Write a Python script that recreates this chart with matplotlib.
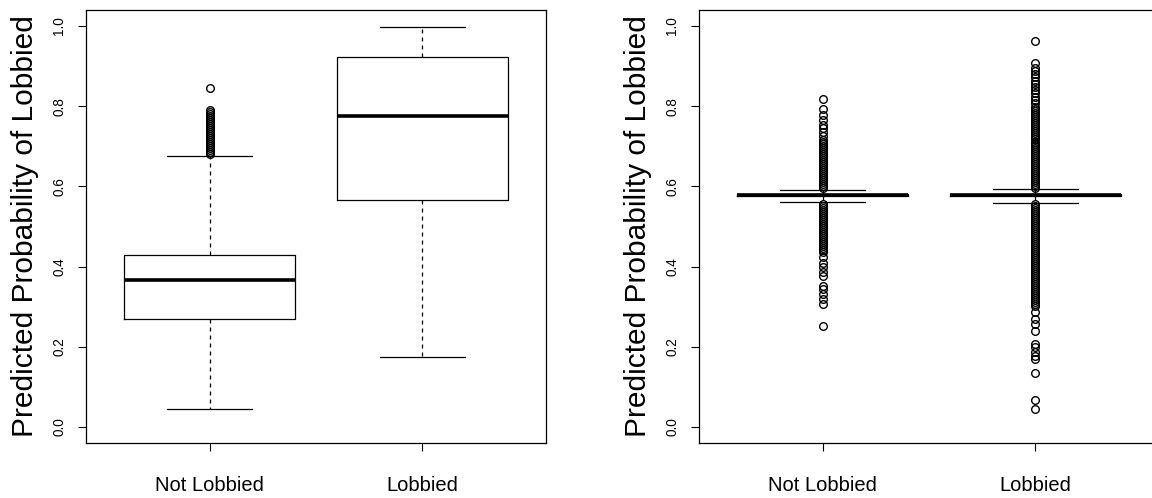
"""
Predicted probability of being lobbied: two side-by-side boxplots (R-style)
"""
import matplotlib
matplotlib.use("Agg")
import matplotlib.pyplot as plt

plt.rcParams["font.family"] = ["Liberation Sans", "DejaVu Sans"]

# ── data ──
groups = ["Not Lobbied", "Lobbied"]
yticks = [0.0, 0.2, 0.4, 0.6, 0.8, 1.0]
ylabel = "Predicted Probability of Lobbied"

# left panel: five-number summaries + outliers
left_not_stats = dict(whislo=0.045, q1=0.269, med=0.366, q3=0.430, whishi=0.675)
left_not_fliers = [0.680, 0.685, 0.690, 0.695, 0.700, 0.705, 0.710, 0.715,
                   0.720, 0.725, 0.730, 0.735, 0.740, 0.745, 0.750, 0.755,
                   0.760, 0.765, 0.770, 0.775, 0.780, 0.785, 0.790, 0.846]
left_lob_stats = dict(whislo=0.174, q1=0.566, med=0.776, q3=0.924, whishi=0.998)
left_lob_fliers = []

# right panel: very tight boxes, long columns of outliers
right_not_stats = dict(whislo=0.562, q1=0.576, med=0.578, q3=0.580, whishi=0.592)
right_not_fliers = [0.818, 0.793, 0.779, 0.766, 0.754, 0.745, 0.735, 0.726,
                    0.716, 0.712, 0.707, 0.702, 0.697, 0.692, 0.687, 0.682,
                    0.677, 0.672, 0.667, 0.662, 0.657, 0.652, 0.647, 0.642,
                    0.637, 0.632, 0.627, 0.622, 0.617, 0.612, 0.607, 0.602,
                    0.597,
                    0.557, 0.552, 0.547, 0.542, 0.537, 0.532, 0.527, 0.522,
                    0.517, 0.512, 0.507, 0.502, 0.497, 0.492, 0.487, 0.482,
                    0.477, 0.472, 0.467, 0.462, 0.457, 0.452, 0.447, 0.442,
                    0.437, 0.423, 0.410, 0.398, 0.386, 0.376, 0.351, 0.343,
                    0.331, 0.318, 0.306, 0.251]
right_lob_stats = dict(whislo=0.559, q1=0.576, med=0.578, q3=0.581, whishi=0.593)
right_lob_fliers = [0.963, 0.907, 0.896, 0.888, 0.880, 0.872, 0.864, 0.856,
                    0.848, 0.840, 0.832, 0.824, 0.816, 0.808,
                    0.797, 0.792, 0.787, 0.782, 0.777, 0.772, 0.767, 0.762,
                    0.757, 0.752, 0.747, 0.742, 0.737, 0.732, 0.727, 0.722,
                    0.717, 0.712, 0.707, 0.702, 0.697, 0.692, 0.687, 0.682,
                    0.677, 0.672, 0.667, 0.662, 0.657, 0.652, 0.647, 0.642,
                    0.637, 0.632, 0.627, 0.622, 0.617, 0.612, 0.607, 0.602,
                    0.597,
                    0.557, 0.552, 0.547, 0.542, 0.537, 0.532, 0.527, 0.522,
                    0.517, 0.512, 0.507, 0.502, 0.497, 0.492, 0.487, 0.482,
                    0.477, 0.472, 0.467, 0.462, 0.457, 0.452, 0.447, 0.442,
                    0.437, 0.432, 0.427, 0.422, 0.417, 0.412, 0.407, 0.402,
                    0.397, 0.392, 0.387, 0.382, 0.377, 0.372, 0.367, 0.362,
                    0.357, 0.352, 0.347, 0.342, 0.337, 0.332, 0.327, 0.322,
                    0.317, 0.312, 0.307, 0.302,
                    0.286, 0.269, 0.256, 0.239, 0.206, 0.199, 0.186, 0.177,
                    0.169, 0.134, 0.067, 0.046]


def make_stats(summary, fliers, label):
    d = dict(summary)
    d["fliers"] = fliers
    d["label"] = label
    return d


def draw_panel(ax, stats):
    lw = 0.9
    ax.bxp(stats, positions=[1, 2], widths=0.8, capwidths=0.4,
           boxprops=dict(color="black", linewidth=lw),
           whiskerprops=dict(color="black", linewidth=lw,
                             linestyle=(0, (3.2, 3.2))),
           capprops=dict(color="black", linewidth=lw),
           medianprops=dict(color="black", linewidth=2.6,
                            solid_capstyle="butt"),
           flierprops=dict(marker="o", markerfacecolor="none",
                           markeredgecolor="black", markersize=5.5,
                           markeredgewidth=1.0, linestyle="none"))
    ax.set_xlim(0.42, 2.58)
    ax.set_ylim(-0.04, 1.04)
    ax.set_xticks([1, 2])
    ax.set_xticklabels(groups, fontsize=14.5)
    ax.set_yticks(yticks)
    ax.set_yticklabels([f"{v:.1f}" for v in yticks], fontsize=9.8,
                       rotation=90, va="center")
    ax.tick_params(axis="x", direction="out", length=6, width=0.8, pad=18)
    ax.tick_params(axis="y", direction="out", length=5.5, width=0.8, pad=8.7)
    ax.set_ylabel(ylabel, fontsize=21.5, va="center")
    ax.yaxis.set_label_coords(-0.1326, 0.5)
    for sp in ax.spines.values():
        sp.set_linewidth(0.9)
        sp.set_color("black")


fig = plt.figure(figsize=(11.52, 4.98), dpi=100)
ax1 = fig.add_axes([86 / 1152, 55 / 498, 460 / 1152, 433 / 498])
ax2 = fig.add_axes([699 / 1152, 55 / 498, 460 / 1152, 433 / 498])

draw_panel(ax1, [make_stats(left_not_stats, left_not_fliers, groups[0]),
                 make_stats(left_lob_stats, left_lob_fliers, groups[1])])
draw_panel(ax2, [make_stats(right_not_stats, right_not_fliers, groups[0]),
                 make_stats(right_lob_stats, right_lob_fliers, groups[1])])

fig.savefig("out.png", dpi=100)
plt.close(fig)
